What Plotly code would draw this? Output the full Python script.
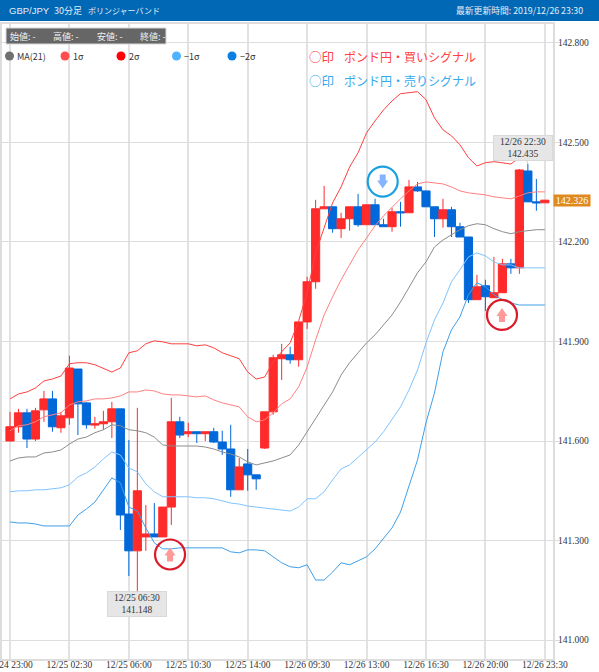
import plotly.graph_objects as go

tick_index = [0, 7, 14, 21, 28, 35, 42, 49, 56, 63]
tick_labels = ["12/24 23:00", "12/25 02:30", "12/25 06:00", "12/25 10:30", "12/25 14:00",
               "12/26 09:30", "12/26 13:00", "12/26 16:30", "12/26 20:00", "12/26 23:30"]
price_ticks = [141.0, 141.3, 141.6, 141.9, 142.2, 142.5, 142.8]

opens = [141.600,141.643,141.685,141.606,141.694,141.727,141.640,141.670,141.817,141.715,141.648,141.652,141.658,141.697,141.380,141.269,
         141.311,141.320,141.311,141.401,141.658,141.622,141.628,141.622,141.628,141.597,141.576,141.453,141.531,141.498,141.579,141.688,
         141.848,141.860,141.845,141.959,142.080,142.300,142.306,142.240,142.270,142.306,142.252,142.312,142.252,142.246,142.291,142.288,
         142.366,142.354,142.306,142.270,142.297,142.246,142.215,142.026,142.068,142.032,142.047,142.134,142.122,142.414,142.321,142.318]
highs = [141.688,141.697,141.697,141.700,141.751,141.751,141.688,141.857,141.817,141.718,141.673,141.691,141.718,141.697,141.603,141.700,
         141.407,141.413,141.401,141.730,141.673,141.655,141.628,141.628,141.640,141.631,141.649,141.549,141.576,141.498,141.688,141.860,
         141.893,141.884,141.959,142.095,142.327,142.369,142.306,142.288,142.306,142.345,142.312,142.330,142.270,142.303,142.321,142.387,
         142.381,142.354,142.306,142.330,142.306,142.258,142.215,142.101,142.086,142.155,142.149,142.149,142.420,142.435,142.390,142.326]
lows = [141.600,141.625,141.579,141.600,141.658,141.628,141.625,141.649,141.618,141.637,141.637,141.634,141.609,141.332,141.193,141.148,
        141.269,141.311,141.311,141.347,141.609,141.612,141.594,141.600,141.594,141.558,141.432,141.453,141.450,141.453,141.576,141.679,
        141.784,141.833,141.824,141.938,142.059,142.300,142.228,142.212,142.234,142.246,142.252,142.252,142.246,142.231,142.246,142.288,
        142.351,142.306,142.215,142.243,142.215,142.215,142.016,142.026,141.992,142.032,142.047,142.104,142.104,142.321,142.294,142.318]
closes = [141.643,141.685,141.606,141.691,141.727,141.643,141.676,141.820,141.712,141.649,141.652,141.658,141.697,141.377,141.269,141.450,
          141.320,141.311,141.401,141.658,141.618,141.628,141.622,141.628,141.597,141.576,141.453,141.522,141.498,141.486,141.688,141.851,
          141.860,141.845,141.959,142.080,142.300,142.306,142.240,142.270,142.306,142.252,142.312,142.252,142.246,142.291,142.288,142.366,
          142.354,142.306,142.270,142.297,142.246,142.215,142.026,142.065,142.035,142.047,142.134,142.122,142.417,142.321,142.318,142.326]

upper2 = [141.727,141.742,141.748,141.760,141.781,141.787,141.796,141.833,141.836,141.836,141.830,141.820,141.808,141.820,141.866,141.872,
          141.893,141.902,141.899,141.893,141.893,141.893,141.887,141.890,141.881,141.866,141.857,141.848,141.808,141.787,141.793,141.839,
          141.869,141.896,141.962,142.047,142.167,142.243,142.318,142.366,142.426,142.469,142.529,142.565,142.598,142.625,142.647,142.650,
          142.653,142.629,142.574,142.538,142.520,142.493,142.454,142.429,142.439,142.442,142.439,142.435,142.454,142.463,142.466,142.466]
upper1 = [141.631,141.646,141.649,141.658,141.673,141.679,141.685,141.709,141.718,141.721,141.727,141.727,141.730,141.736,141.748,141.748,
          141.754,141.751,141.742,141.739,141.739,141.736,141.733,141.736,141.724,141.715,141.709,141.703,141.673,141.658,141.664,141.685,
          141.712,141.727,141.763,141.823,141.905,141.980,142.035,142.086,142.131,142.176,142.212,142.249,142.279,142.306,142.330,142.354,
          142.375,142.381,142.378,142.375,142.366,142.354,142.348,142.345,142.342,142.336,142.333,142.330,142.339,142.348,142.351,142.351]
ma21 = [141.540,141.549,141.552,141.552,141.564,141.567,141.573,141.591,141.606,141.612,141.625,141.634,141.649,141.646,141.634,141.631,
        141.625,141.612,141.588,141.585,141.585,141.585,141.585,141.582,141.576,141.567,141.561,141.552,141.537,141.528,141.534,141.540,
        141.549,141.558,141.588,141.628,141.670,141.709,141.748,141.799,141.836,141.866,141.896,141.920,141.950,141.980,142.019,142.065,
        142.107,142.140,142.185,142.206,142.221,142.237,142.249,142.255,142.252,142.240,142.231,142.225,142.231,142.234,142.237,142.237]
lower1 = [141.447,141.450,141.450,141.453,141.453,141.456,141.459,141.468,141.492,141.504,141.522,141.546,141.567,141.558,141.519,141.507,
          141.471,141.447,141.432,141.432,141.432,141.432,141.429,141.429,141.426,141.419,141.413,141.410,141.404,141.401,141.398,141.395,
          141.392,141.389,141.401,141.426,141.426,141.447,141.483,141.516,141.528,141.552,141.573,141.597,141.628,141.664,141.703,141.754,
          141.814,141.896,141.965,142.016,142.080,142.116,142.155,142.167,142.158,142.140,142.131,142.131,142.122,142.122,142.122,142.122]
lower2 = [141.356,141.353,141.353,141.350,141.344,141.344,141.344,141.344,141.377,141.395,141.416,141.453,141.489,141.474,141.401,141.389,
          141.338,141.293,141.275,141.275,141.278,141.278,141.278,141.278,141.278,141.278,141.266,141.263,141.272,141.272,141.269,141.251,
          141.233,141.221,141.218,141.227,141.181,141.181,141.205,141.233,141.227,141.239,141.251,141.275,141.305,141.338,141.386,141.462,
          141.543,141.655,141.745,141.869,141.935,141.974,142.041,142.077,142.065,142.041,142.026,142.016,142.010,142.010,142.010,142.010]

x_values = list(range(len(opens)))

RED, BLUE = "#ff2a2a", "#0068d8"
series = [("MA(21)", ma21, "#8c8c8c", "#707070"),
          ("1σ", upper1, "#ff8080", "#ff4d4d"),
          ("2σ", upper2, "#ff4040", "#ff0000"),
          ("−1σ", lower1, "#80c4ff", "#4db3ff"),
          ("−2σ", lower2, "#3f9fe8", "#0a80e0")]

W, H = 599, 672
L, R, T, B = 2, 553, 24, 659
JP = "Noto Sans CJK JP"
NARROW = "Liberation Sans Narrow"

def px(x): return (x - L) / (R - L)
def py(y): return (B - y) / (B - T)

fig = go.Figure()
fig.add_trace(go.Candlestick(
    x=x_values, open=opens, high=highs, low=lows, close=closes,
    increasing=dict(line=dict(color=RED, width=1), fillcolor=RED),
    decreasing=dict(line=dict(color=BLUE, width=1), fillcolor=BLUE),
    whiskerwidth=0, showlegend=False, name="GBP/JPY"))
for name, vals, line_col, _ in series:
    fig.add_trace(go.Scatter(x=x_values, y=vals, mode="lines", name=name,
                             line=dict(color=line_col, width=1), showlegend=False))

shapes = []
annots = []

def paper_text(text, x, y, size=9, color="#333", font=JP, anchor="left"):
    annots.append(dict(text=text, xref="paper", yref="paper", x=px(x), y=py(y),
                       xanchor=anchor, yanchor="middle", showarrow=False,
                       font=dict(size=size, color=color, family=font)))

def paper_rect(x0, y0, x1, y1, fill, line=None, kind="rect", layer="above"):
    shapes.append(dict(type=kind, xref="paper", yref="paper", x0=px(x0), x1=px(x1),
                       y0=py(y0), y1=py(y1), fillcolor=fill, layer=layer,
                       line=dict(color=line or fill, width=1 if line else 0)))

# header band
paper_rect(0, 0, W, 21, "#0068b5")
head = "#e4eef8"
paper_text("GBP/JPY", 7, 10, 9.5, head, "Liberation Sans")
paper_text("30分足", 52, 10, 9, head)
paper_text("ボリンジャーバンド", 86, 10, 8, head)
paper_text("最新更新時間: 2019/12/26 23:30", 585, 10, 8.8, head, anchor="right")

# OHLC read-out
paper_rect(6, 28, 166, 44, "#666666", "#d8d8d8")
for label, x0 in zip(["始値: -", "高値: -", "安値: -", "終値: -"], [8, 51, 95, 138]):
    paper_text(label, x0, 36, 9, "#f2f2f2")

# legend row
for (name, _, _, dot), cx, tx in zip(series, [9.5, 65, 121, 176.5, 232], [15, 71, 126.5, 182, 238]):
    paper_rect(cx - 4.5, 51.5, cx + 4.5, 60.5, dot, kind="circle")
    paper_text(name, tx, 56.5, 9, "#333")

# signal notes
paper_text("○印", 307, 56, 12.5, "#ff4040")
paper_text("ポンド円・買いシグナル", 342, 56, 12, "#ff4040")
paper_text("○印", 307, 80, 12.5, "#33aaee")
paper_text("ポンド円・売りシグナル", 342, 80, 12, "#33aaee")

# signal marks
signals = [(18.85, 141.258, "#dd1a2a", "#ff9a9a", 1),
           (43.9, 142.382, "#1aa0e0", "#85b4ff", -1),
           (57.95, 141.980, "#dd1a2a", "#ff9a9a", 1)]
for sx, sy, ring, arrow, d in signals:
    shapes.append(dict(type="circle", xref="x", yref="y", xsizemode="pixel", ysizemode="pixel",
                       xanchor=sx, yanchor=sy, x0=-15, x1=15, y0=-15, y1=15,
                       line=dict(color=ring, width=2.2), fillcolor="rgba(0,0,0,0)"))
    p = [(-5.5, -1), (-3, -1), (-3, -7), (3, -7), (3, -1), (5.5, -1), (0, 7)]
    path = "M" + " L".join(f"{a},{b * d}" for a, b in p) + " Z"
    shapes.append(dict(type="path", xref="x", yref="y", xsizemode="pixel", ysizemode="pixel",
                       xanchor=sx, yanchor=sy, path=path, fillcolor=arrow,
                       line=dict(color=arrow, width=0)))

# extreme call-outs
for ix, val, when, ax, ay in [(15, 141.148, "12/25 06:30", 0, 13.5), (61, 142.435, "12/26 22:30", -5, -16)]:
    annots.append(dict(x=ix, y=val, xref="x", yref="y", text=f"{when}<br>{val:.3f}",
                       showarrow=True, ax=ax, ay=ay, arrowhead=0, arrowwidth=1, arrowcolor="#cccccc",
                       bgcolor="#e6e6e6", bordercolor="#d9d9d9", borderwidth=1, borderpad=1,
                       width=56, font=dict(size=9.5, color="#333", family=NARROW)))

# last price tag
annots.append(dict(x=px(553), y=closes[-1], xref="paper", yref="y", text=f"{closes[-1]:.3f}",
                   xanchor="left", yanchor="middle", showarrow=False, bgcolor="#e08a1e",
                   width=36, height=11, borderpad=0,
                   font=dict(size=10, color="#ffffff", family=NARROW)))

fig.update_layout(
    width=W, height=H, margin=dict(l=L, r=W - R, t=T, b=H - B, pad=0, autoexpand=False),
    paper_bgcolor="white", plot_bgcolor="white", boxgap=0.04, boxgroupgap=0,
    shapes=shapes, annotations=annots, showlegend=False,
    font=dict(family=NARROW, size=10, color="#333"),
    xaxis=dict(range=[-0.942, 63.96], tickmode="array", tickvals=tick_index, ticktext=tick_labels,
               rangeslider=dict(visible=False), showgrid=True, gridcolor="#e2e2e2", gridwidth=2,
               zeroline=False, ticks="", showline=True, mirror=True, linecolor="#dddddd", linewidth=2,
               tickfont=dict(size=9.5, family=NARROW, color="#333"), ticklabeloverflow="allow",
               ticklabelstandoff=-4),
    yaxis=dict(range=[140.943, 142.857], side="right", tickmode="array", tickvals=price_ticks,
               tickformat=".3f", showgrid=True, gridcolor="#dddddd", gridwidth=1, zeroline=False,
               ticks="outside", ticklen=5, tickcolor="#dddddd", showline=True, mirror=True,
               linecolor="#dddddd", linewidth=2, tickfont=dict(size=9.5, family=NARROW, color="#333"),
               ticklabelstandoff=-4),
)

fig.write_html("out.html", config=dict(displayModeBar=False),
               post_script="document.body.style.margin='0';document.body.style.overflow='hidden';")
